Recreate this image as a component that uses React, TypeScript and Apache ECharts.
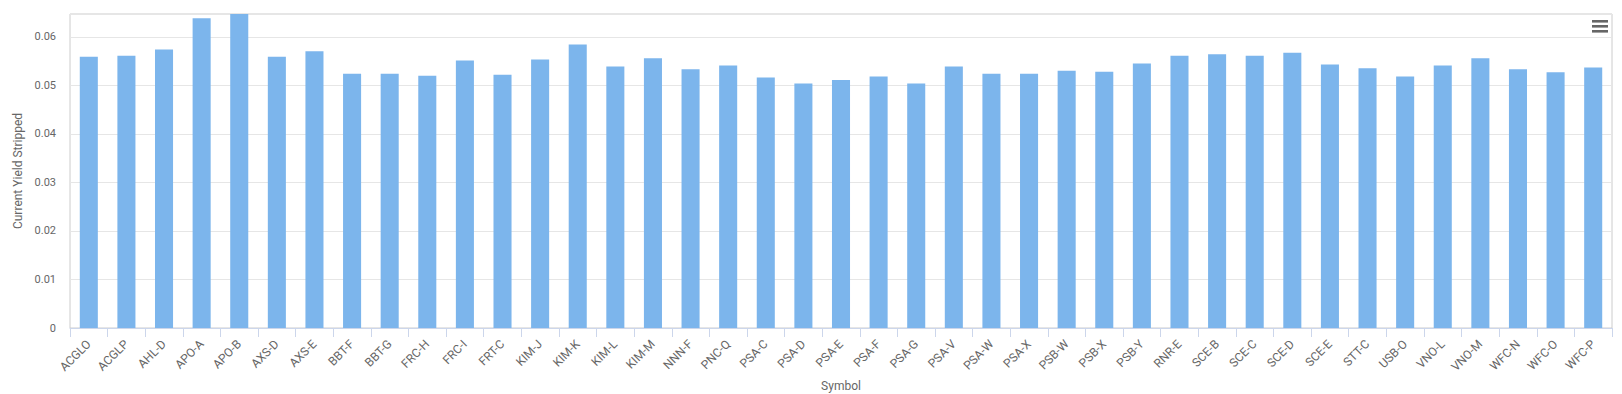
import React, { useEffect, useRef } from "react";
import * as echarts from "echarts";

const categories = [
  "ACGLO", "ACGLP", "AHL-D", "APO-A", "APO-B", "AXS-D", "AXS-E", "BBT-F", "BBT-G", "FRC-H",
  "FRC-I", "FRT-C", "KIM-J", "KIM-K", "KIM-L", "KIM-M", "NNN-F", "PNC-Q", "PSA-C", "PSA-D",
  "PSA-E", "PSA-F", "PSA-G", "PSA-V", "PSA-W", "PSA-X", "PSB-W", "PSB-X", "PSB-Y", "RNR-E",
  "SCE-B", "SCE-C", "SCE-D", "SCE-E", "STT-C", "USB-O", "VNO-L", "VNO-M", "WFC-N", "WFC-O",
  "WFC-P",
];

const yieldValues = [
  0.0559, 0.0561, 0.0574, 0.0638, 0.0647, 0.0559, 0.057, 0.0524, 0.0524, 0.052,
  0.0551, 0.0522, 0.0553, 0.0584, 0.0539, 0.0556, 0.0533, 0.0541, 0.0516, 0.0504,
  0.0511, 0.0518, 0.0504, 0.0539, 0.0524, 0.0524, 0.053, 0.0528, 0.0545, 0.0561,
  0.0564, 0.0561, 0.0567, 0.0543, 0.0535, 0.0518, 0.0541, 0.0556, 0.0533, 0.0527,
  0.0537,
];

const FONT = "Roboto, 'Open Sans', sans-serif";

export default function App() {
  const ref = useRef<HTMLDivElement>(null);

  useEffect(() => {
    document.body.style.margin = "0";
    if (!ref.current) return;
    const chart = echarts.init(ref.current, undefined, { renderer: "svg" });
    chart.setOption({
      animation: false,
      textStyle: { fontFamily: FONT },
      grid: {
        left: 70,
        right: 10,
        top: 14,
        bottom: 66,
        show: true,
        borderColor: "#cccccc",
        borderWidth: 1,
        outerBoundsMode: "none",
        containLabel: false,
      },
      xAxis: {
        type: "category",
        data: categories,
        name: "Symbol",
        nameLocation: "middle",
        nameGap: 50,
        nameTextStyle: { color: "#666666", fontSize: 12, fontFamily: FONT },
        axisLine: { lineStyle: { color: "#ccd6eb" } },
        axisTick: { show: true, length: 9, lineStyle: { color: "#ccd6eb" } },
        axisLabel: {
          rotate: 45,
          interval: 0,
          color: "#666666",
          fontSize: 12,
          fontFamily: FONT,
          margin: 14,
        },
      },
      yAxis: {
        type: "value",
        min: 0,
        max: "dataMax",
        interval: 0.01,
        name: "Current Yield Stripped",
        nameLocation: "middle",
        nameGap: 39,
        nameTextStyle: { color: "#666666", fontSize: 12, fontFamily: FONT },
        axisLine: { show: false },
        axisTick: { show: false },
        splitLine: { lineStyle: { color: "#e6e6e6" } },
        axisLabel: {
          color: "#666666",
          fontSize: 11,
          fontFamily: FONT,
          margin: 14,
          showMaxLabel: false,
        },
      },
      series: [
        {
          type: "bar",
          data: yieldValues,
          barWidth: "48%",
          itemStyle: { color: "#7cb5ec" },
        },
      ],
      graphic: [
        { type: "rect", shape: { x: 1592, y: 20, width: 16, height: 2.6 }, style: { fill: "#666666" } },
        { type: "rect", shape: { x: 1592, y: 25, width: 16, height: 2.6 }, style: { fill: "#666666" } },
        { type: "rect", shape: { x: 1592, y: 30, width: 16, height: 2.6 }, style: { fill: "#666666" } },
      ],
    });
    return () => chart.dispose();
  }, []);

  return <div ref={ref} style={{ width: 1622, height: 394 }} />;
}
